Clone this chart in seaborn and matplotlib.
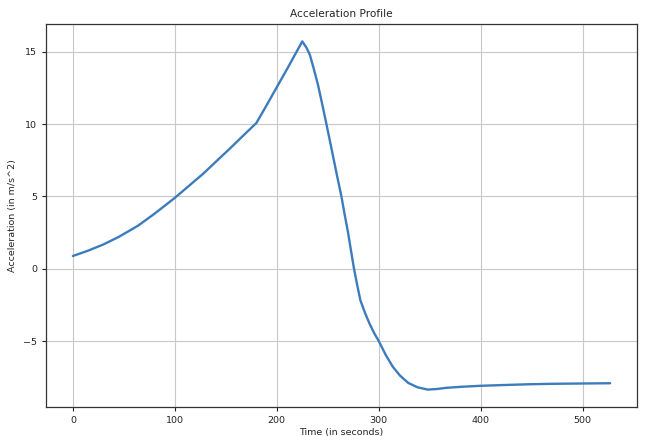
import pandas as pd
import seaborn as sns
import matplotlib.pyplot as plt

# values
time = [0, 15, 30, 45, 64, 80, 100, 115, 128, 141, 154, 167, 180,
        190, 200, 212, 225, 229, 232.4, 236, 240.5, 244.5, 248.7, 252,
        255.5, 259.5, 263.4, 266.5, 269.9, 272.7, 275.5, 278.8, 282,
        286.5, 291, 295.5, 300, 307, 314, 321, 329, 338, 348, 357, 366,
        380, 399, 420, 448, 470, 497, 527]
accel = [0.88, 1.25, 1.68, 2.2, 2.98, 3.8, 4.9, 5.8, 6.58, 7.45, 8.31, 9.2,
         10.08, 11.3, 12.55, 14.05, 15.72, 15.3, 14.8, 13.9, 12.69, 11.4,
         10.0, 8.88, 7.67, 6.3, 5.0, 3.78, 2.5, 1.3, 0.1, -1.1, -2.18,
         -3.05, -3.8, -4.45, -5.0, -5.98, -6.8, -7.4, -7.9, -8.2, -8.36,
         -8.32, -8.24, -8.17, -8.1, -8.05, -7.99, -7.96, -7.94, -7.92]

df = pd.DataFrame({"t": time, "a": accel})

sns.set_style("ticks")
fig, ax = plt.subplots(figsize=(6.52, 4.36), dpi=100)
fig.subplots_adjust(left=0.0706, right=0.977, bottom=0.0665, top=0.945)

sns.lineplot(data=df, x="t", y="a", ax=ax, color="#3d7cbc", linewidth=1.7)

ax.grid(True, color="#c8c8c8", linewidth=0.8)
ax.set_axisbelow(True)
for s in ax.spines.values():
    s.set_color("#333333")
    s.set_linewidth(0.9)
ax.tick_params(labelsize=6.8, length=3, width=0.8, colors="#222222")
ax.set_xticks([0, 100, 200, 300, 400, 500])
ax.set_yticks([-5, 0, 5, 10, 15])
ax.set_yticklabels(["\u22125", "0", "5", "10", "15"])

ax.set_title("Acceleration Profile", fontsize=7.6, pad=5)
ax.set_xlabel("Time (in seconds)", fontsize=6.8, labelpad=2)
ax.set_ylabel("Acceleration (in m/s^2)", fontsize=6.8, labelpad=4)

fig.savefig("out.png", dpi=100)
